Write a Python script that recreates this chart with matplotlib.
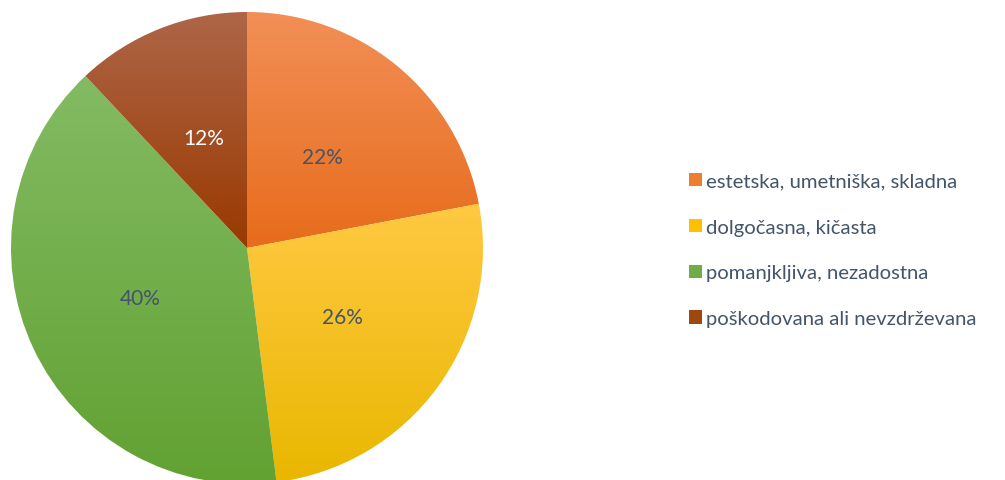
import matplotlib.pyplot as plt
import numpy as np
from matplotlib.colors import LinearSegmentedColormap
from matplotlib.patches import Patch

labels = ['estetska, umetniška, skladna', 'dolgočasna, kičasta',
          'pomanjkljiva, nezadostna', 'poškodovana ali nevzdrževana']
values = [22, 26, 40, 12]
# (top colour, bottom colour) for each slice's vertical gradient
grad_top = ['#F28F57', '#FFC942', '#83BB63', '#AE6648']
grad_bot = ['#E76C1B', '#E9B700', '#62A132', '#993900']
legend_col = ['#ED7D31', '#FFC000', '#70AD47', '#9E480E']
pct_colors = ['#44546A', '#44546A', '#44546A', 'white']
text_col = '#44546A'

plt.rcParams['font.family'] = ['Lato', 'DejaVu Sans']

W, H = 1005, 481
fig = plt.figure(figsize=(W / 100, H / 100), dpi=100)
cx, cy, R = 247, 249, 236
ax = fig.add_axes([(cx - R) / W, (H - cy - R) / H, 2 * R / W, 2 * R / H])

wedges, _, autotexts = ax.pie(values, startangle=90, counterclock=False, radius=1,
                              autopct=lambda p: f'{p:.0f}%', pctdistance=0.5,
                              wedgeprops=dict(linewidth=0),
                              textprops=dict(fontsize=15))
ax.set_aspect('equal')
ax.axis('off')

for w, t, b, tc, at in zip(wedges, grad_top, grad_bot, pct_colors, autotexts):
    w.set_facecolor('none')
    th = np.radians(np.linspace(w.theta1, w.theta2, 200))
    ys = np.concatenate([np.sin(th), [0]])
    y0, y1 = ys.min(), ys.max()
    cmap = LinearSegmentedColormap.from_list('g', [b, t])
    grad = np.linspace(0, 1, 256).reshape(-1, 1)
    im = ax.imshow(grad, cmap=cmap, origin='lower', aspect='auto',
                   extent=[-1, 1, y0, y1], zorder=0.5)
    im.set_clip_path(w)
    at.set_color(tc)
    at.set_zorder(3)

ax.set_xlim(-1, 1)
ax.set_ylim(-1, 1)

handles = [Patch(facecolor=c, edgecolor='none') for c in legend_col]
fig.legend(handles, labels, loc='center left', bbox_to_anchor=(671 / W, 1 - 251 / H),
           frameon=False, fontsize=14.6, labelcolor=text_col,
           handlelength=0.65, handleheight=0.65, handletextpad=0.2, labelspacing=1.42)

fig.savefig('out.png', dpi=100)
